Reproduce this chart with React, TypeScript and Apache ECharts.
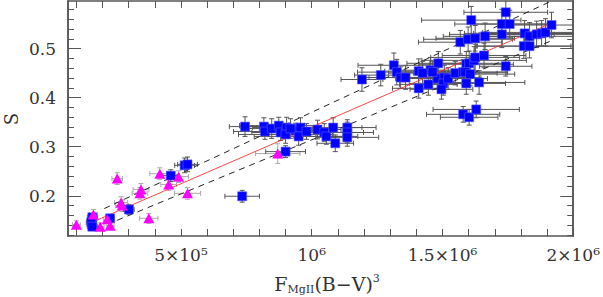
import React, { useEffect, useRef } from 'react';
import * as echarts from 'echarts';

// ---------- data ----------
const blueX = [161000, 157000, 161000, 229000, 301000, 461000, 514000, 525000, 734000,
  745000, 817000, 821000, 847000, 874000, 881000, 904000, 900000, 938000, 957000, 950000, 980000, 1022000, 1048000, 1056000, 1082000, 1090000, 1136000, 1136000, 1136000, 900000, 919000,
  1192000, 1264000, 1314000, 1325000, 1340000, 1359000, 1409000, 1409000, 1446000, 1454000, 1484000, 1481000, 1507000, 1503000, 1496000, 1522000, 1549000, 1579000, 1591000, 1568000, 1579000, 1602000, 1629000, 1591000, 1602000, 1621000, 1625000, 1659000, 1640000, 1742000, 1610000, 1598000, 1625000, 1663000, 1727000, 1757000, 1727000, 1742000, 1814000, 1833000, 1860000, 1879000, 1894000, 1917000, 1811000, 1833000, 1424000, 1462000, 1587000, 1606000];
const blueY = [0.156, 0.146, 0.137, 0.154, 0.172, 0.241, 0.262, 0.264, 0.199,
  0.341, 0.341, 0.331, 0.337, 0.343, 0.329, 0.339, 0.325, 0.333, 0.339, 0.321, 0.331, 0.335, 0.329, 0.321, 0.339, 0.307, 0.339, 0.329, 0.319, 0.290, 0.337,
  0.437, 0.446, 0.466, 0.452, 0.441, 0.441, 0.454, 0.419, 0.427, 0.456, 0.470, 0.439, 0.441, 0.429, 0.417, 0.439, 0.450, 0.452, 0.429, 0.513, 0.366, 0.360, 0.376, 0.468, 0.470, 0.476, 0.482, 0.486, 0.431, 0.464, 0.558, 0.519, 0.521, 0.525, 0.550, 0.550, 0.529, 0.574, 0.531, 0.525, 0.529, 0.531, 0.533, 0.548, 0.505, 0.505, 0.450, 0.452, 0.452, 0.448];
const blueXErr = [19000, 19000, 19000, 15000, 20000, 30000, 38000, 38000, 66000,
  60000, 90000, 120000, 100000, 150000, 110000, 130000, 180000, 120000, 140000, 170000, 100000, 90000, 150000, 120000, 110000, 70000, 110000, 100000, 120000, 76000, 100000,
  80000, 100000, 137000, 150000, 150000, 140000, 130000, 100000, 110000, 120000, 120000, 160000, 140000, 130000, 120000, 150000, 160000, 170000, 150000, 160000, 140000, 110000, 165000, 180000, 150000, 200000, 170000, 160000, 175000, 100000, 190000, 170000, 150000, 160000, 180000, 150000, 200000, 160000, 230000, 250000, 220000, 260000, 240000, 200000, 180000, 200000, 130000, 140000, 160000, 170000];
const blueYErr = [0.008, 0.008, 0.008, 0.008, 0.01, 0.012, 0.015, 0.015, 0.012,
  0.02, 0.018, 0.016, 0.02, 0.017, 0.016, 0.021, 0.018, 0.015, 0.02, 0.018, 0.016, 0.019, 0.018, 0.016, 0.02, 0.017, 0.016, 0.021, 0.018, 0.012, 0.02,
  0.024, 0.022, 0.025, 0.026, 0.022, 0.024, 0.025, 0.02, 0.022, 0.026, 0.024, 0.022, 0.025, 0.024, 0.02, 0.022, 0.024, 0.026, 0.022, 0.024, 0.016, 0.016, 0.017, 0.026, 0.025, 0.028, 0.027, 0.025, 0.024, 0.02, 0.028, 0.025, 0.026, 0.027, 0.03, 0.028, 0.027, 0.03, 0.026, 0.028, 0.027, 0.026, 0.028, 0.026, 0.025, 0.024, 0.024, 0.022, 0.025, 0.024];

const magX = [100000, 165000, 191000, 218000, 229000, 256000, 271000, 275000, 347000, 343000, 377000, 419000, 453000, 491000, 525000, 870000];
const magY = [0.141, 0.162, 0.137, 0.152, 0.139, 0.235, 0.186, 0.180, 0.213, 0.205, 0.154, 0.245, 0.223, 0.239, 0.205, 0.286];
const magXErr = [15000, 15000, 15000, 15000, 15000, 20000, 25000, 25000, 30000, 30000, 35000, 38000, 30000, 38000, 50000, 85000];
const magYErr = [0.008, 0.01, 0.008, 0.008, 0.008, 0.012, 0.012, 0.012, 0.012, 0.012, 0.01, 0.012, 0.012, 0.012, 0.012, 0.02];

const fitX = [160000, 1917000];
const fitY = [0.146, 0.552];
const upperX = [207000, 1909000];
const upperY = [0.174, 0.595];
const lowerX = [256000, 1917000];
const lowerY = [0.150, 0.516];

const xTicks = [100000, 200000, 300000, 400000, 500000, 600000, 700000, 800000, 900000, 1000000, 1100000, 1200000, 1300000, 1400000, 1500000, 1600000, 1700000, 1800000, 1900000, 2000000];
const xLabelVals = [500000, 1000000, 1500000, 2000000];
const xLabelTexts = ['5×10⁵', '10⁶', '1.5×10⁶', '2×10⁶'];
const yMajor = [0.2, 0.3, 0.4, 0.5];
const yMajorTexts = ['0.2', '0.3', '0.4', '0.5'];
const yMinor = [0.12, 0.14, 0.16, 0.18, 0.2, 0.22, 0.24, 0.26, 0.28, 0.3, 0.32, 0.34, 0.36, 0.38, 0.4, 0.42, 0.44, 0.46, 0.48, 0.5, 0.52, 0.54, 0.56, 0.58];

const X_MIN = 68000;
const X_MAX = 2000000;
const Y_MIN = 0.118;
const Y_MAX = 0.597;

const FONT = 'DejaVu Serif';
const AXIS_COLOR = '#555';
const TEXT_COLOR = '#333';

function errorBarRender(color: string) {
  return (_params: any, api: any) => {
    const x = api.value(0), y = api.value(1), xe = api.value(2), ye = api.value(3);
    const c = api.coord([x, y]);
    const l = api.coord([x - xe, y]);
    const r = api.coord([x + xe, y]);
    const t = api.coord([x, y + ye]);
    const b = api.coord([x, y - ye]);
    const cap = 2.5;
    const style = { stroke: color, lineWidth: 1 };
    return {
      type: 'group',
      children: [
        { type: 'line', shape: { x1: l[0], y1: c[1], x2: r[0], y2: c[1] }, style },
        { type: 'line', shape: { x1: l[0], y1: c[1] - cap, x2: l[0], y2: c[1] + cap }, style },
        { type: 'line', shape: { x1: r[0], y1: c[1] - cap, x2: r[0], y2: c[1] + cap }, style },
        { type: 'line', shape: { x1: c[0], y1: t[1], x2: c[0], y2: b[1] }, style },
        { type: 'line', shape: { x1: c[0] - cap, y1: t[1], x2: c[0] + cap, y2: t[1] }, style },
        { type: 'line', shape: { x1: c[0] - cap, y1: b[1], x2: c[0] + cap, y2: b[1] }, style },
      ],
    };
  };
}

function xAxisDef(position: string, labels: boolean) {
  return {
    type: 'value', position, min: X_MIN, max: X_MAX,
    axisLine: { show: true, onZero: false, lineStyle: { color: AXIS_COLOR, width: 1.5 } },
    axisTick: { show: true, inside: true, length: 7, customValues: xTicks, lineStyle: { color: AXIS_COLOR, width: 1 } },
    axisLabel: {
      show: labels, customValues: xLabelVals, margin: 10, color: TEXT_COLOR, fontFamily: FONT, fontSize: 17,
      formatter: (v: number) => {
        const i = xLabelVals.findIndex((a) => Math.abs(a - v) < 1);
        return i >= 0 ? xLabelTexts[i] : '';
      },
    },
    splitLine: { show: false },
  };
}

function yAxisDef(position: string, major: boolean, labels: boolean) {
  return {
    type: 'value', position, min: Y_MIN, max: Y_MAX,
    axisLine: { show: true, onZero: false, lineStyle: { color: AXIS_COLOR, width: 1.5 } },
    axisTick: { show: true, inside: true, length: major ? 13 : 6, customValues: major ? yMajor : yMinor, lineStyle: { color: AXIS_COLOR, width: 1 } },
    axisLabel: {
      show: labels, customValues: yMajor, margin: 12, color: TEXT_COLOR, fontFamily: FONT, fontSize: 17,
      formatter: (v: number) => {
        const i = yMajor.findIndex((a) => Math.abs(a - v) < 1e-6);
        return i >= 0 ? yMajorTexts[i] : '';
      },
    },
    splitLine: { show: false },
  };
}

export default function App() {
  const ref = useRef<HTMLDivElement>(null);
  useEffect(() => {
    if (!ref.current) return;
    const chart = echarts.init(ref.current, undefined, { renderer: 'svg' });
    const blueErr = blueX.map((x, i) => [x, blueY[i], blueXErr[i], blueYErr[i]]);
    const magErr = magX.map((x, i) => [x, magY[i], magXErr[i], magYErr[i]]);
    chart.setOption({
      animation: false,
      backgroundColor: '#ffffff',
      grid: { left: 68, right: 26, top: 1, bottom: 61, containLabel: false },
      xAxis: [xAxisDef('bottom', true), xAxisDef('top', false)],
      yAxis: [yAxisDef('left', true, true), yAxisDef('left', false, false), yAxisDef('right', true, false), yAxisDef('right', false, false)],
      graphic: [
        {
          type: 'text', x: 11, y: 119, rotation: Math.PI / 2,
          style: { text: 'S', fontFamily: FONT, fontSize: 18, lineHeight: 16, fill: TEXT_COLOR, align: 'center', verticalAlign: 'middle', textAlign: 'center', textVerticalAlign: 'middle' },
        },
        {
          type: 'text', x: 327, y: 284,
          style: {
            text: '{f|F}{s|MgII}{f|(B−V)}{p|3}',
            align: 'center', verticalAlign: 'middle', textAlign: 'center', textVerticalAlign: 'middle',
            fill: TEXT_COLOR,
            rich: {
              f: { fontFamily: FONT, fontSize: 19, lineHeight: 22, fill: TEXT_COLOR, color: TEXT_COLOR },
              s: { fontFamily: FONT, fontSize: 11, lineHeight: 12, verticalAlign: 'bottom', fill: TEXT_COLOR, color: TEXT_COLOR },
              p: { fontFamily: FONT, fontSize: 11, lineHeight: 12, verticalAlign: 'top', fill: TEXT_COLOR, color: TEXT_COLOR },
            },
          },
        },
      ],
      series: [
        { type: 'custom', name: 'magErr', renderItem: errorBarRender('#aaaaaa'), data: magErr, encode: { x: 0, y: 1 }, clip: true, silent: true, z: 1 },
        { type: 'custom', name: 'blueErr', renderItem: errorBarRender('#555555'), data: blueErr, encode: { x: 0, y: 1 }, clip: true, silent: true, z: 2 },
        { type: 'line', data: fitX.map((x, i) => [x, fitY[i]]), symbol: 'none', lineStyle: { color: 'rgba(255,40,40,0.85)', width: 1 }, z: 3 },
        { type: 'line', data: upperX.map((x, i) => [x, upperY[i]]), symbol: 'none', lineStyle: { color: '#222', width: 1, type: [6, 5] }, z: 3 },
        { type: 'line', data: lowerX.map((x, i) => [x, lowerY[i]]), symbol: 'none', lineStyle: { color: '#222', width: 1, type: [6, 5] }, z: 3 },
        {
          type: 'scatter', data: blueX.map((x, i) => [x, blueY[i]]), symbol: 'rect', symbolSize: 9,
          itemStyle: { color: '#0000ff', borderColor: 'rgba(90,90,255,0.6)', borderWidth: 1, opacity: 1 }, z: 4,
        },
        {
          type: 'scatter', data: magX.map((x, i) => [x, magY[i]]), symbol: 'triangle', symbolSize: [11, 10],
          itemStyle: { color: '#ff00ff', opacity: 1 }, z: 5,
        },
      ],
    });
    return () => chart.dispose();
  }, []);
  return (
    <div ref={ref} style={{ position: 'fixed', left: 0, top: 0, width: 603, height: 297, background: '#fff' }} />
  );
}
